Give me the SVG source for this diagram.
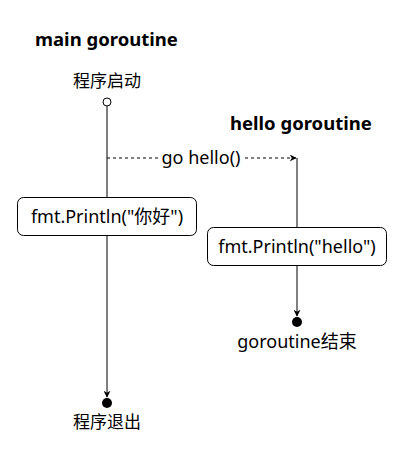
<svg xmlns="http://www.w3.org/2000/svg" width="412" height="462" viewBox="0 0 412 462">
<style>
text{font-family:"Noto Sans","Noto Sans CJK SC",sans-serif;fill:#000}
.t{font-size:18px;text-anchor:middle}
.c{font-size:17px;text-anchor:middle}
.h{font-size:18.5px;font-weight:bold}
.box{fill:#fff;stroke:#000;stroke-width:1}
.ln{stroke:#000;stroke-width:1;fill:none}
</style>
<defs>
<marker id="ar" viewBox="0 0 10 10" refX="9" refY="5" markerWidth="7" markerHeight="7" orient="auto" markerUnits="userSpaceOnUse"><path d="M0,0 L10,5 L0,10 L3,5 Z" fill="#000"/></marker>
</defs>
<rect width="412" height="462" fill="#fff"/>
<text class="h" x="35" y="46">main goroutine</text>
<text class="h" x="230" y="130">hello goroutine</text>
<g id="connectors">
<path class="ln" d="M107,106 V397" marker-end="url(#ar)"/>
<path class="ln" d="M107,158 H296" stroke-dasharray="3,3" marker-end="url(#ar)"/>
<path class="ln" d="M297,158 V316" marker-end="url(#ar)"/>
<rect x="160" y="146" width="83" height="22" fill="#fff"/>
<text class="t" x="201" y="164">go hello()</text>
</g>
<g id="start"><circle cx="107" cy="102" r="4" fill="#fff" stroke="#000"/><text class="c" x="107" y="87">程序启动</text></g>
<g id="print1"><rect class="box" x="17.5" y="197.5" width="179" height="38" rx="6"/><text class="t" x="107" y="223">fmt.Println("你好")</text></g>
<g id="print2"><rect class="box" x="207.5" y="227.5" width="179" height="38" rx="6"/><text class="t" x="297" y="253">fmt.Println("hello")</text></g>
<g id="end2"><circle cx="297" cy="322" r="5" fill="#000"/><text class="t" x="297" y="348">goroutine结束</text></g>
<g id="end1"><circle cx="107" cy="403" r="5" fill="#000"/><text class="c" x="107" y="428">程序退出</text></g>
</svg>
